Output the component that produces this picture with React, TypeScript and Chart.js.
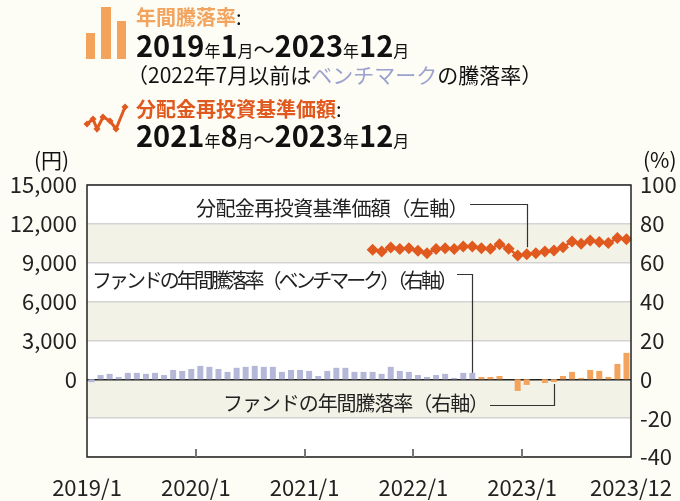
import React, { useEffect, useLayoutEffect, useRef } from 'react';
import { Chart, registerables } from 'chart.js';

Chart.register(...registerables);

const FONT = '"Noto Sans CJK JP", "Noto Sans", sans-serif';

// month index 0 = 2019/1 ... 59 = 2023/12
const months: string[] = [];
for (let y = 2019; y <= 2023; y++) for (let m = 1; m <= 12; m++) months.push(`${y}/${m}`);

const xTickLabels = ['2019/1', '2020/1', '2021/1', '2022/1', '2023/1', '2023/12'];

// Annual rate of benchmark (%), 2019/1 - 2022/7
const benchmarkRates = [
  -1.5, 2.2, 2.8, 1.2, 3.3, 3.3, 2.8, 3.3, 2.2, 4.8,
  4.3, 5.3, 6.9, 6.4, 5.3, 3.8, 5.9, 6.4, 6.9, 6.4,
  6.4, 3.8, 4.8, 4.8, 4.3, 1.7, 4.3, 5.9, 5.9, 3.8,
  3.8, 3.8, 2.8, 6.4, 4.3, 3.8, 2.2, 1.2, 2.2, 2.8,
  0.7, 3.3, 3.3,
];
// Annual rate of fund (%), 2022/8 - 2023/12
const fundRates = [
  1.2, 1.2, 1.7, 0, -6.0, -2.9, 0, -1.9, -1.4, 1.7,
  3.8, 0.7, 4.8, 4.3, 1.2, 7.9, 13.6,
];
// NAV with dividends reinvested (yen), 2021/8 - 2023/12
const navStartIndex = 31;
const navValues = [
  10000, 9865, 10175, 10050, 10125, 9918, 9740, 10050, 10125, 10050,
  10250, 10250, 10125, 10070, 10435, 10070, 9555, 9660, 9740, 9865,
  9940, 10200, 10640, 10460, 10715, 10590, 10515, 10900, 10820,
];

const PURPLE = '#b5b7d9';
const ORANGE = '#f4a35c';
const RED = '#e0591f';
const BEIGE = '#f3f2e6';
const PAGE = '#fdfdf5';

const bandPlugin = {
  id: 'bands',
  beforeDraw(chart: any) {
    const { ctx, chartArea: a, scales } = chart;
    const y = scales.y;
    ctx.save();
    ctx.fillStyle = '#ffffff';
    ctx.fillRect(a.left, a.top, a.right - a.left, a.bottom - a.top);
    ctx.fillStyle = BEIGE;
    const bands = [[9000, 12000], [3000, 6000], [-3000, 0]];
    for (const [lo, hi] of bands) {
      const t = y.getPixelForValue(hi);
      const b = y.getPixelForValue(lo);
      ctx.fillRect(a.left, t, a.right - a.left, b - t);
    }
    ctx.restore();
  },
};

const overlayPlugin = {
  id: 'overlay',
  afterDatasetsDraw(chart: any) {
    const { ctx, chartArea: a, scales } = chart;
    const x = scales.x;
    const yL = scales.y;
    const yR = scales.y2;
    ctx.save();
    // border
    ctx.strokeStyle = '#222';
    ctx.lineWidth = 1.5;
    ctx.strokeRect(a.left, a.top, a.right - a.left, a.bottom - a.top);
    // inner tick marks at year boundaries
    ctx.strokeStyle = '#777';
    ctx.lineWidth = 2;
    for (const v of [12, 24, 36, 48]) {
      const px = Math.round(x.getPixelForValue(v));
      ctx.beginPath();
      ctx.moveTo(px, a.bottom);
      ctx.lineTo(px, a.bottom - 8);
      ctx.stroke();
    }
    // annotations
    ctx.font = `20px ${FONT}`;
    ctx.fillStyle = '#222';
    ctx.textBaseline = 'middle';
    ctx.textAlign = 'left';
    ctx.strokeStyle = '#333';
    ctx.lineWidth = 1.2;

    const drawCallout = (text: string, tx: number, tEnd: number, ty: number, ly: number, px: number, py: number) => {
      const n = Array.from(text).length;
      (ctx as any).letterSpacing = '0px';
      const natural = ctx.measureText(text).width;
      const sp = (tEnd - tx - natural) / n;
      (ctx as any).letterSpacing = `${sp.toFixed(2)}px`;
      ctx.fillText(text, tx, ty);
      (ctx as any).letterSpacing = '0px';
      ctx.beginPath();
      ctx.moveTo(tEnd + 2, ly);
      ctx.lineTo(px, ly);
      ctx.lineTo(px, py);
      ctx.stroke();
    };

    const i1 = 48;
    drawCallout('分配金再投資基準価額（左軸）', 196, 468, 208, 204.5,
      Math.round(x.getPixelForValue(i1 + 0.5)) + 0.5,
      yL.getPixelForValue(navValues[i1 - navStartIndex]) - 7);

    const i2 = 42;
    drawCallout('ファンドの年間騰落率（ベンチマーク）（右軸）', 92, 455, 280, 274.5,
      Math.round(x.getPixelForValue(i2 + 0.5)) + 0.5,
      yR.getPixelForValue(benchmarkRates[i2]));

    const i3 = 51;
    drawCallout('ファンドの年間騰落率（右軸）', 223, 488, 403, 405.5,
      Math.round(x.getPixelForValue(i3 + 0.5)) + 0.5,
      yR.getPixelForValue(fundRates[i3 - 43]) + 2);
    ctx.restore();
  },
};

function ChartCanvas() {
  const ref = useRef<HTMLCanvasElement | null>(null);
  useEffect(() => {
    if (!ref.current) return;
    const allRates = [...benchmarkRates, ...fundRates];
    const barData = allRates.map((v, i) => ({ x: i + 0.5, y: v }));
    const barColors = allRates.map((_, i) => (i < benchmarkRates.length ? PURPLE : ORANGE));
    const lineData = navValues.map((v, i) => ({ x: navStartIndex + i + 0.5, y: v }));

    const chart = new Chart(ref.current, {
      type: 'bar',
      data: {
        datasets: [
          {
            type: 'line',
            label: '分配金再投資基準価額',
            data: lineData as any,
            yAxisID: 'y',
            borderColor: RED,
            backgroundColor: RED,
            borderWidth: 2.5,
            pointStyle: 'rectRot',
            pointRadius: 6,
            pointBorderWidth: 0,
            pointBackgroundColor: RED,
            tension: 0,
            order: 0,
          } as any,
          {
            type: 'bar',
            label: '年間騰落率',
            data: barData as any,
            yAxisID: 'y2',
            backgroundColor: barColors,
            borderWidth: 0,
            barPercentage: 0.66,
            categoryPercentage: 1,
            order: 1,
          } as any,
        ],
      },
      options: {
        responsive: false,
        animation: false,
        layout: { padding: { top: 185, left: 0, right: 0, bottom: 0 } },
        plugins: { legend: { display: false }, tooltip: { enabled: false } },
        scales: {
          x: {
            type: 'linear',
            min: 0,
            max: 60,
            offset: false,
            grid: { display: false, drawTicks: false, offset: false },
            border: { display: false },
            ticks: {
              stepSize: 12,
              autoSkip: false,
              maxRotation: 0,
              padding: 17,
              color: '#222',
              font: { size: 22, family: FONT },
              callback: (v: any) => {
                const k = Number(v) / 12;
                return Number.isInteger(k) ? xTickLabels[k] : '';
              },
            },
            afterFit: (s: any) => {
              s.height = 44;
              s.paddingLeft = 0;
              s.paddingRight = 0;
            },
          },
          y: {
            position: 'left',
            min: -6000,
            max: 15000,
            grid: {
              drawTicks: false,
              color: (c: any) => (c.tick && c.tick.value === 0 ? '#222' : '#d3d3d3'),
              lineWidth: 1.5,
            },
            border: { display: false },
            ticks: {
              stepSize: 3000,
              padding: 10,
              color: '#222',
              font: { size: 22, family: FONT },
              callback: (v: any) => (Number(v) < 0 ? '' : Number(v).toLocaleString('en-US')),
            },
            afterFit: (s: any) => { s.width = 87; s.paddingTop = 0; s.paddingBottom = 0; },
          },
          y2: {
            position: 'right',
            min: -40,
            max: 100,
            grid: { display: false, drawTicks: false },
            border: { display: false },
            ticks: {
              stepSize: 20,
              padding: 9,
              color: '#222',
              font: { size: 22, family: FONT },
              callback: (v: any) => String(v),
            },
            afterFit: (s: any) => { s.width = 49; s.paddingTop = 0; s.paddingBottom = 0; },
          },
        },
      },
      plugins: [bandPlugin, overlayPlugin],
    });
    return () => chart.destroy();
  }, []);
  return (
    <canvas
      ref={ref}
      width={680}
      height={501}
      style={{ position: 'absolute', left: 0, top: 0, width: 680, height: 501 }}
    />
  );
}

const iconPts: [number, number][] = [[5, 22], [11, 17], [15, 27], [21, 15], [28, 19], [34, 27], [43, 5]];

export default function App() {
  useLayoutEffect(() => {
    document.body.style.margin = '0';
    document.body.style.background = PAGE;
  }, []);
  const big: React.CSSProperties = { fontSize: 29, fontWeight: 700 };
  const small: React.CSSProperties = { fontSize: 16 };
  const tilde: React.CSSProperties = { fontSize: 21 };
  return (
    <div style={{ position: 'relative', width: 680, height: 501, background: PAGE, fontFamily: FONT, color: '#111', overflow: 'hidden' }}>
      <ChartCanvas />
      <svg width={50} height={60} style={{ position: 'absolute', left: 84, top: 4 }}>
        <rect x={2} y={29} width={9} height={26} fill={ORANGE} />
        <rect x={17} y={3} width={10} height={52} fill={ORANGE} />
        <rect x={33} y={17} width={9} height={38} fill={ORANGE} />
      </svg>
      <svg width={50} height={40} style={{ position: 'absolute', left: 82, top: 102 }}>
        <polyline
          points={iconPts.map((p) => p.join(',')).join(' ')}
          fill="none"
          stroke={RED}
          strokeWidth={3}
          strokeLinejoin="miter"
        />
        {iconPts.map(([px, py], i) => (
          <rect key={i} x={px - 2.5} y={py - 2.5} width={5} height={5} fill={RED} transform={`rotate(45 ${px} ${py})`} />
        ))}
      </svg>
      <div style={{ position: 'absolute', left: 136, top: 4, fontSize: 20, lineHeight: '26px', whiteSpace: 'nowrap' }}>
        <span style={{ color: '#f2a35e', fontWeight: 700 }}>年間騰落率</span>:
      </div>
      <div style={{ position: 'absolute', left: 136, top: 27, lineHeight: '34px', whiteSpace: 'nowrap' }}>
        <span style={big}>2019</span><span style={small}>年</span><span style={big}>1</span><span style={small}>月</span>
        <span style={tilde}>～</span>
        <span style={big}>2023</span><span style={small}>年</span><span style={big}>12</span><span style={small}>月</span>
      </div>
      <div style={{ position: 'absolute', left: 127, top: 60, fontSize: 21, lineHeight: '28px', whiteSpace: 'nowrap' }}>
        （2022年7月以前は<span style={{ color: '#9ca2cf' }}>ベンチマーク</span>の騰落率）
      </div>
      <div style={{ position: 'absolute', left: 136, top: 96, fontSize: 20, lineHeight: '26px', whiteSpace: 'nowrap' }}>
        <span style={{ color: RED, fontWeight: 700 }}>分配金再投資基準価額</span>:
      </div>
      <div style={{ position: 'absolute', left: 136, top: 117, lineHeight: '34px', whiteSpace: 'nowrap' }}>
        <span style={big}>2021</span><span style={small}>年</span><span style={big}>8</span><span style={small}>月</span>
        <span style={tilde}>～</span>
        <span style={big}>2023</span><span style={small}>年</span><span style={big}>12</span><span style={small}>月</span>
      </div>
      <div style={{ position: 'absolute', left: 34, top: 146, fontSize: 21, lineHeight: '26px' }}>(円)</div>
      <div style={{ position: 'absolute', left: 643, top: 146, fontSize: 21, lineHeight: '26px' }}>(%)</div>
    </div>
  );
}
